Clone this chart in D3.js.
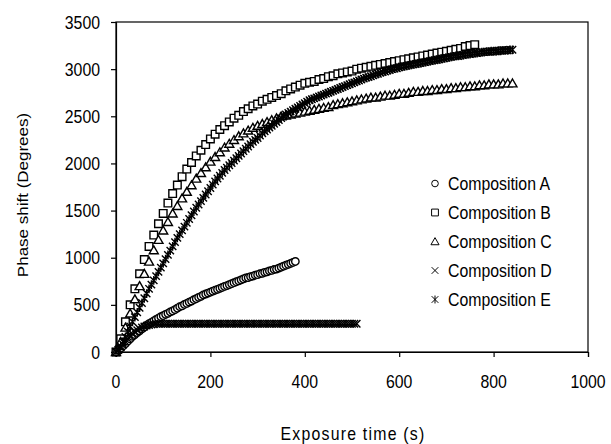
<!DOCTYPE html>
<html>
<head>
	<meta charset="utf-8">
	<style>
		body { margin: 0; background: #fff; }
		text { font-family: Arial, "Liberation Sans", sans-serif; fill: #000; }
	</style>
	<script src="https://cdn.jsdelivr.net/npm/d3@7"></script>
</head>
<body>
<div id="chart"></div>
<script>
	// exposure times (s)
	var times10 = [0,10,20,30,40,50,60,70,80,90,100,110,120,130,140,150,160,170,180,190,200,210,220,230,240,250,260,270,280,290,300,310,320,330,340,350,360,370,380,390,400,410,420,430,440,450,460,470,480,490,500,510,520,530,540,550,560,570,580,590,600,610,620,630,640,650,660,670,680,690,700,710,720,730,740,750,760,770,780,790,800,810,820,830,840];
	var times5 = [0,5,10,15,20,25,30,35,40,45,50,55,60,65,70,75,80,85,90,95,100,105,110,115,120,125,130,135,140,145,150,155,160,165,170,175,180,185,190,195,200,205,210,215,220,225,230,235,240,245,250,255,260,265,270,275,280,285,290,295,300,305,310,315,320,325,330,335,340,345,350,355,360,365,370,375,380,385,390,395,400,405,410,415,420,425,430,435,440,445,450,455,460,465,470,475,480,485,490,495,500,505,510,515,520,525,530,535,540,545,550,555,560,565,570,575,580,585,590,595,600,605,610,615,620,625,630,635,640,645,650,655,660,665,670,675,680,685,690,695,700,705,710,715,720,725,730,735,740,745,750,755,760,765,770,775,780,785,790,795,800,805,810,815,820,825,830,835,840];

	// phase shift (degrees) per composition
	var compA = [0,20,40,65,90,115,140,165,185,205,225,245,265,285,300,315,330,345,360,375,385,400,410,425,435,450,465,480,490,505,515,530,540,555,565,580,590,605,615,625,635,645,655,665,675,685,695,705,715,725,735,745,755,765,775,785,790,800,805,815,820,830,835,845,850,860,865,875,880,890,900,910,920,930,940,950,960];
	var compB = [0,140,320,500,670,830,980,1120,1240,1360,1470,1580,1680,1770,1860,1940,2010,2080,2140,2200,2260,2310,2360,2400,2440,2480,2510,2550,2580,2610,2630,2660,2680,2700,2720,2740,2770,2790,2810,2830,2850,2860,2870,2890,2900,2920,2930,2950,2960,2970,2980,3000,3010,3020,3030,3040,3050,3060,3070,3080,3090,3100,3110,3120,3130,3140,3150,3160,3170,3180,3190,3200,3210,3220,3240,3250,3260];
	var compC = [0,110,260,410,560,700,830,960,1080,1190,1290,1380,1470,1550,1630,1700,1770,1840,1900,1960,2020,2070,2120,2170,2210,2250,2290,2320,2350,2380,2400,2420,2440,2460,2480,2500,2510,2520,2530,2540,2550,2560,2570,2580,2590,2600,2620,2630,2640,2650,2660,2670,2680,2690,2700,2700,2710,2720,2720,2730,2740,2740,2750,2760,2760,2770,2770,2780,2780,2790,2790,2800,2800,2810,2810,2820,2820,2830,2830,2840,2840,2840,2850,2850,2850];
	var compD = [0,25,50,80,110,140,165,190,210,230,245,260,270,280,285,290,295,298,300,300,300,300,300,300,300,300,300,300,300,300,300,300,300,300,300,300,300,300,300,300,300,300,300,300,300,300,300,300,300,300,300,300,300,300,300,300,300,300,300,300,300,300,300,300,300,300,300,300,300,300,300,300,300,300,300,300,300,300,300,300,300,300,300,300,300,300,300,300,300,300,300,300,300,300,300,300,300,300,300,300,300,300,300];
	var compE = [0,20,60,110,160,215,270,320,370,420,470,520,570,620,670,715,760,805,850,895,940,985,1030,1075,1120,1165,1210,1250,1290,1330,1370,1410,1450,1490,1530,1565,1600,1635,1670,1705,1740,1775,1810,1840,1870,1900,1930,1955,1980,2005,2030,2055,2080,2105,2130,2155,2180,2205,2230,2250,2270,2295,2320,2340,2360,2380,2400,2420,2440,2460,2480,2500,2520,2535,2550,2565,2580,2595,2610,2625,2640,2655,2670,2680,2690,2700,2710,2720,2730,2740,2750,2760,2770,2780,2790,2800,2810,2820,2830,2840,2850,2860,2870,2880,2890,2900,2910,2915,2925,2935,2945,2950,2960,2970,2975,2985,2990,3000,3005,3010,3020,3025,3030,3035,3040,3045,3050,3055,3060,3065,3070,3075,3080,3085,3090,3095,3100,3105,3110,3115,3120,3125,3130,3135,3140,3140,3145,3150,3155,3160,3160,3165,3170,3170,3175,3180,3180,3185,3185,3190,3190,3190,3195,3195,3200,3200,3200,3205,3205];

	var seriesNames = ["Composition A", "Composition B", "Composition C", "Composition D", "Composition E"];
	var seriesShapes = ["circle", "square", "triangle", "times", "asterisk"];

	var xTicks = [0, 200, 400, 600, 800, 1000];
	var yTicks = [0, 500, 1000, 1500, 2000, 2500, 3000, 3500];

	var W = 611, H = 444;
	var plot = {left: 116, right: 588, top: 22, bottom: 352};
	var squeeze = 0.88; // glyphs look a bit narrow in the original

	var x = d3.scaleLinear().domain([0, 1000]).range([plot.left, plot.right]);
	var y = d3.scaleLinear().domain([0, 3500]).range([plot.bottom, plot.top]);

	function shapePath(kind) {
		var r = 3.7;
		if (kind == "circle") return "M" + (-r) + ",0A" + r + "," + r + " 0 1,0 " + r + ",0A" + r + "," + r + " 0 1,0 " + (-r) + ",0Z";
		if (kind == "square") return "M-3.8,-3.8H3.8V3.8H-3.8Z";
		if (kind == "triangle") return "M0,-4.3L4.5,3.6H-4.5Z";
		if (kind == "times") return "M-3.7,-3.7L3.7,3.7M-3.7,3.7L3.7,-3.7";
		return "M-3.7,-3.7L3.7,3.7M-3.7,3.7L3.7,-3.7M0,-4.4V4.4";
	}

	var svg = d3.select("#chart").append("svg").attr("width", W).attr("height", H);

	function label(g, str, px, py, anchor, size) {
		return g.append("text")
			.attr("transform", "translate(" + px + "," + py + ") scale(" + squeeze + ",1)")
			.attr("text-anchor", anchor)
			.style("font-size", size + "px")
			.text(str);
	}

	// plot frame
	svg.append("rect").attr("x", plot.left).attr("y", plot.top)
		.attr("width", plot.right - plot.left).attr("height", plot.bottom - plot.top)
		.attr("fill", "none").attr("stroke", "#000").attr("stroke-width", 1.2);

	// axes
	var xAxis = svg.append("g").attr("transform", "translate(0," + plot.bottom + ")")
		.call(d3.axisBottom(x).tickValues(xTicks).tickSize(5).tickFormat(""));
	var yAxis = svg.append("g").attr("transform", "translate(" + plot.left + ",0)")
		.call(d3.axisLeft(y).tickValues(yTicks).tickSize(5).tickFormat(""));
	[xAxis, yAxis].forEach(function(a){
		a.select(".domain").attr("stroke", "#000").attr("stroke-width", 1.2);
		a.selectAll(".tick line").attr("stroke", "#000").attr("stroke-width", 1.2);
	});

	var labels = svg.append("g");
	xTicks.forEach(function(t){ label(labels, String(t), x(t), plot.bottom + 36, "middle", 18); });
	yTicks.forEach(function(t){ label(labels, String(t), plot.left - 16, y(t) + 6.5, "end", 18); });

	// axis titles
	label(labels, "Exposure time (s)", 353, 440, "middle", 18).style("letter-spacing", "1.4px");
	labels.append("text")
		.attr("transform", "translate(27.5,195) scale(" + squeeze + ",1) rotate(-90)")
		.attr("text-anchor", "middle")
		.style("font-size", "17px")
		.text("Phase shift (Degrees)");

	// series, drawn in legend order so E ends up on top
	var allSeries = [
		{vals: compA, t: times5},
		{vals: compB, t: times10},
		{vals: compC, t: times10},
		{vals: compD, t: times5},
		{vals: compE, t: times5}
	];
	allSeries.forEach(function(s, i){
		var pts = s.vals.map(function(v, k){ return {t: s.t[k], v: v}; });
		var shape = seriesShapes[i];
		var filled = shape == "circle" || shape == "square" || shape == "triangle";
		svg.append("g").selectAll("path").data(pts).enter().append("path")
			.attr("transform", function(d){ return "translate(" + x(d.t) + "," + y(d.v) + ")"; })
			.attr("d", shapePath(shape))
			.attr("fill", filled ? "#fff" : "none")
			.attr("stroke", "#000")
			.attr("stroke-width", 1.4);
	});

	// legend
	var legend = svg.append("g");
	seriesNames.forEach(function(name, i){
		var ly = 183.5 + i * 29;
		legend.append("path")
			.attr("transform", "translate(435," + ly + ") scale(0.9)")
			.attr("d", shapePath(seriesShapes[i]))
			.attr("fill", "#fff").attr("stroke", "#000").attr("stroke-width", 1.1);
		label(legend, name, 448, ly + 6.5, "start", 18);
	});
</script>
</body>
</html>
